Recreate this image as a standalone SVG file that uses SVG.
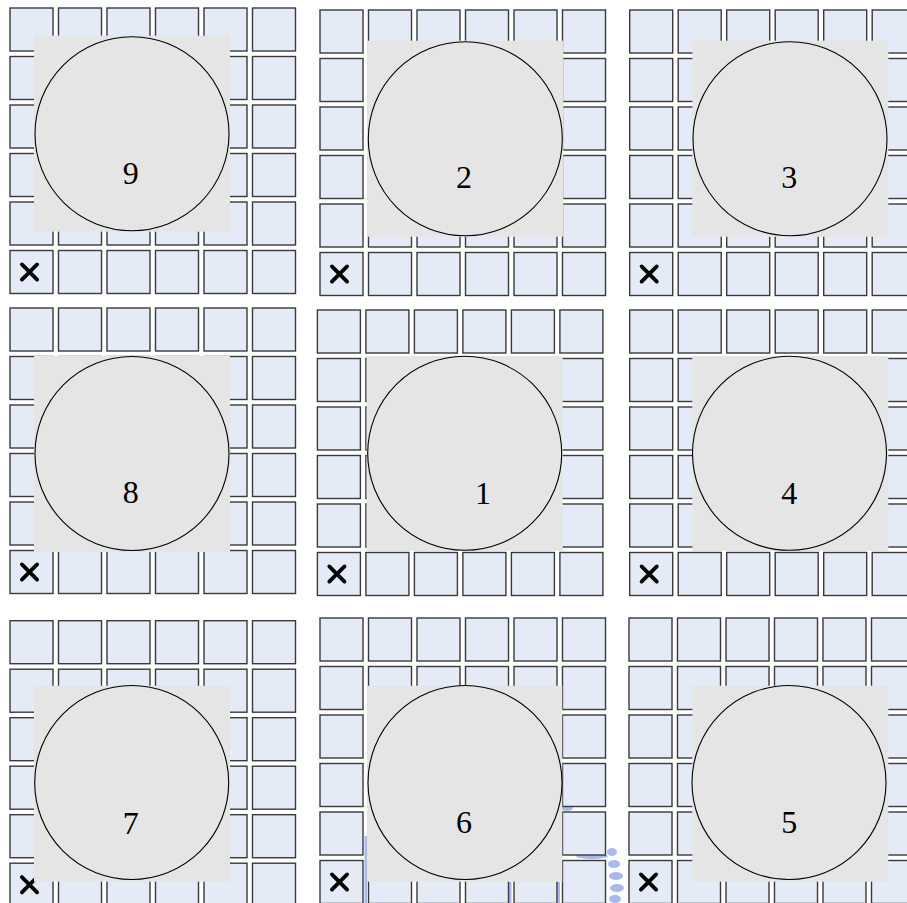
<svg xmlns="http://www.w3.org/2000/svg" xmlns:xlink="http://www.w3.org/1999/xlink" width="907" height="903" viewBox="0 0 907 903">
<style>
.cell{fill:#e5ebf6;stroke:#3a3a3a;stroke-width:1.4}
.pad{fill:#e5e5e5}
.disk{fill:#e5e5e5;stroke:#000;stroke-width:1.1}
.num{font-family:"Liberation Serif","Times New Roman",serif;font-size:32px;fill:#000;text-anchor:middle}
.mark{stroke:#000;stroke-width:3.8;stroke-linecap:round;fill:none}
.wm{fill:#a9b9ee}
</style>
<defs>
<g id="grid">
<g id="row">
<rect class="cell" x="0.7" y="0.7" width="43" height="43"/>
<rect class="cell" x="49.2" y="0.7" width="43" height="43"/>
<rect class="cell" x="97.7" y="0.7" width="43" height="43"/>
<rect class="cell" x="146.2" y="0.7" width="43" height="43"/>
<rect class="cell" x="194.7" y="0.7" width="43" height="43"/>
<rect class="cell" x="243.2" y="0.7" width="43" height="43"/>
</g>
<use xlink:href="#row" y="48.5"/>
<use xlink:href="#row" y="97"/>
<use xlink:href="#row" y="145.5"/>
<use xlink:href="#row" y="194"/>
<use xlink:href="#row" y="242.5"/>
<path class="mark" d="M12.6,257.1 L27.8,272.3 M27.8,257.1 L12.6,272.3"/>
</g>
</defs>
<rect width="907" height="903" fill="#fff"/>
<g id="watermark">
<ellipse class="wm" cx="567" cy="808" rx="6" ry="3"/>
<ellipse class="wm" cx="592" cy="856" rx="16" ry="3"/>
<ellipse class="wm" cx="612" cy="852" rx="5" ry="4"/>
<ellipse class="wm" cx="614" cy="864" rx="6" ry="4"/>
<ellipse class="wm" cx="616" cy="876" rx="7" ry="4"/>
<ellipse class="wm" cx="617" cy="888" rx="7" ry="4"/>
<ellipse class="wm" cx="615" cy="899" rx="6" ry="4"/>
<rect class="wm" x="364.5" y="836" width="2.5" height="67"/>
<rect class="wm" x="509" y="882" width="2.5" height="21"/>
<rect class="wm" x="557.5" y="882" width="2.5" height="21"/>
</g>
<g id="panel-9">
<use xlink:href="#grid" x="9.3" y="7.3"/>
<rect class="pad" x="34" y="35.7" width="196" height="196"/>
<circle class="disk" cx="132" cy="133.7" r="97"/>
<text class="num" x="130.7" y="183.5">9</text>
</g>
<g id="panel-2">
<use xlink:href="#grid" x="319.3" y="9.3"/>
<rect class="pad" x="367.3" y="40.7" width="196" height="196"/>
<circle class="disk" cx="465.3" cy="138.7" r="97"/>
<text class="num" x="464" y="188">2</text>
</g>
<g id="panel-3">
<use xlink:href="#grid" x="629" y="9.3"/>
<rect class="pad" x="692.3" y="40.7" width="196" height="196"/>
<circle class="disk" cx="790" cy="138.7" r="97"/>
<text class="num" x="789.3" y="188">3</text>
</g>
<g id="panel-8">
<use xlink:href="#grid" x="9.3" y="307.3"/>
<rect class="pad" x="34" y="356" width="196" height="196"/>
<circle class="disk" cx="132" cy="453.5" r="97"/>
<text class="num" x="130.7" y="503.2">8</text>
</g>
<g id="panel-1">
<use xlink:href="#grid" x="316.7" y="309.3"/>
<rect class="pad" x="366.7" y="356" width="196" height="195"/>
<circle class="disk" cx="464.7" cy="453.3" r="97"/>
<text class="num" x="483" y="503.5">1</text>
</g>
<g id="panel-4">
<use xlink:href="#grid" x="629" y="309.3"/>
<rect class="pad" x="692.3" y="356" width="196" height="195"/>
<circle class="disk" cx="789.5" cy="453.3" r="97"/>
<text class="num" x="789.3" y="503.8">4</text>
</g>
<g id="panel-7">
<use xlink:href="#grid" x="9.3" y="620"/>
<rect class="pad" x="34" y="685.7" width="196" height="196"/>
<circle class="disk" cx="131.7" cy="782.5" r="97"/>
<text class="num" x="130.7" y="833.5">7</text>
</g>
<g id="panel-6">
<use xlink:href="#grid" x="319.3" y="617.3"/>
<rect class="pad" x="367.3" y="685.7" width="195" height="196"/>
<circle class="disk" cx="465" cy="782.5" r="97"/>
<text class="num" x="464" y="832.5">6</text>
</g>
<g id="panel-5">
<use xlink:href="#grid" x="628.3" y="617.3"/>
<rect class="pad" x="692.3" y="685.7" width="196" height="196"/>
<circle class="disk" cx="789" cy="782.5" r="97"/>
<text class="num" x="789.3" y="832.8">5</text>
</g>
<g id="connectors"/>
</svg>
